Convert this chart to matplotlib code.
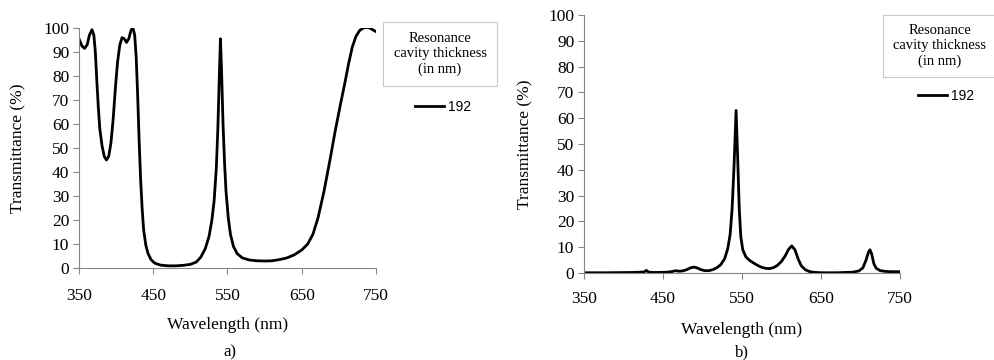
import matplotlib
matplotlib.use("Agg")
import matplotlib.pyplot as plt
from matplotlib.patches import Rectangle

# panel a) transmittance, cavity 192 nm
wl_a = [350, 354, 357.5, 361, 364, 367.5, 370, 372, 374, 376, 378, 381, 384, 387, 390,
        393, 396, 399, 402, 405, 408, 411, 414, 417, 420, 422.5, 425, 427, 429, 431,
        433, 435, 437, 440, 443, 447, 452, 460, 470, 480, 490, 500, 508, 514, 520,
        525, 529, 532, 535, 537, 539, 540.5, 542, 544, 546, 548, 551, 554, 558, 563,
        570, 580, 590, 600, 610, 620, 630, 640, 650, 658, 665, 672, 680, 688, 695,
        702, 708, 713, 718, 723, 728, 733, 738, 743, 747, 750]
tr_a = [95.5, 92.5, 91.5, 93, 97, 99.3, 97, 90, 78, 67, 58, 51, 46.5, 45, 46.5,
        52, 62, 75, 86, 93, 96, 95.5, 94, 95.5, 99, 100.3, 97, 88, 72, 53,
        37, 25, 16, 9.5, 6, 3.5, 2, 1.2, 0.9, 0.9, 1.1, 1.5, 2.5, 4.5, 8,
        13, 20, 28, 42, 58, 80, 95.5, 82, 60, 44, 32, 21, 14, 9, 6,
        4.2, 3.3, 3, 2.9, 3, 3.5, 4.2, 5.5, 7.5, 10, 14, 21, 32, 45, 57,
        68, 77, 85, 92, 96.5, 99, 100, 100.3, 99.8, 99, 98.5]

# panel b)
wl_b = [350, 380, 410, 420, 426, 429, 432, 440, 455, 462, 466, 470, 475, 480, 485,
        489, 493, 498, 503, 508, 513, 518, 523, 528, 532, 535, 537.5, 540, 542.5, 544.5,
        546.5, 548.5, 551, 555, 560, 565, 570, 575, 580, 585, 590, 595, 600, 605, 609,
        613, 617, 621, 625, 630, 635, 640, 650, 670, 690, 698, 703, 707, 710, 712,
        714, 717, 720, 725, 732, 740, 750]
tr_b = [0.1, 0.1, 0.2, 0.3, 0.4, 1.0, 0.3, 0.2, 0.3, 0.6, 0.9, 0.7, 0.8, 1.3, 2.0,
        2.3, 2.0, 1.3, 0.9, 0.9, 1.3, 2.0, 3.2, 5.5, 9.5, 15, 25, 42, 63, 45,
        25, 14, 9, 6.2, 4.8, 3.8, 2.9, 2.2, 1.8, 1.7, 2.1, 3.0, 4.5, 6.8, 9.2,
        10.5, 9, 5.5, 2.8, 1.3, 0.6, 0.3, 0.1, 0.1, 0.3, 0.8, 2, 5, 8, 9,
        7.5, 3.5, 1.8, 0.9, 0.6, 0.5, 0.5]

xticks = [350, 450, 550, 650, 750]
yticks = list(range(0, 101, 10))
legend_title = "Resonance\ncavity thickness\n(in nm)"
series_name = "192"
panel_tags = ["a)", "b)"]

W, H = 995, 360
fig = plt.figure(figsize=(W / 100, H / 100), dpi=100)
serif = "Liberation Serif"
grey = "#868686"


def fx(px):
    return px / W


def fy(py):
    return 1 - py / H


def panel(rect, wl, tr, box, entry, tag, ylab_x, xtick_y, xlab_y):
    # rect in pixels: left, top, right, bottom
    l, t, r, b = rect
    ax = fig.add_axes([fx(l), fy(b), fx(r - l), (b - t) / H])
    ax.plot(wl, tr, color="black", lw=2, label=series_name)
    ax.set_xlim(350, 750)
    ax.set_ylim(0, 100)
    ax.set_xticks(xticks)
    ax.set_yticks(yticks)
    for s in ["top", "right"]:
        ax.spines[s].set_visible(False)
    for s in ["left", "bottom"]:
        ax.spines[s].set_color(grey)
    ax.tick_params(color=grey, length=4, direction="out", labelsize=12.5, pad=3)
    ax.tick_params(axis="x", pad=((xtick_y - b) - 7) * 0.72 - 4)
    for lbl in ax.get_xticklabels() + ax.get_yticklabels():
        lbl.set_fontfamily(serif)
    ax.set_xlabel("Wavelength (nm)", fontsize=12.5, family=serif, va="center")
    ax.xaxis.set_label_coords(0.5, -(xlab_y - b) / (b - t))
    ax.set_ylabel("Transmittance (%)", fontsize=12.5, family=serif, va="center")
    ax.yaxis.set_label_coords(-(l - ylab_x) / (r - l), 0.5)

    # legend title box
    bl, bt, br, bb = box
    fig.patches.append(Rectangle((fx(bl), fy(bb)), fx(br - bl), (bb - bt) / H,
                                 transform=fig.transFigure, fill=False,
                                 edgecolor="#c8c8c8", lw=0.8))
    fig.text(fx(bl + 57), fy((bt + bb) / 2), legend_title, ha="center", va="center",
             fontsize=10.5, family=serif, linespacing=1.25)
    ax.legend(loc="center left", bbox_to_anchor=(fx(entry[0]), fy(entry[1])),
              bbox_transform=fig.transFigure, frameon=False, handlelength=2.1,
              handletextpad=0.3, borderpad=0, borderaxespad=0,
              prop={"family": "Liberation Sans", "size": 10})
    fig.text(fx(tag[0]), fy(tag[1]), tag[2], ha="center", va="center",
             fontsize=12, family=serif)
    return ax


panel((79, 28, 376, 268), wl_a, tr_a, (383, 22, 497, 86), (415, 107),
      (230, 352, panel_tags[0]), 18, 295, 325)
panel((584, 15, 900, 273), wl_b, tr_b, (883, 15, 1000, 77), (918, 96),
      (742, 352, panel_tags[1]), 525, 298, 330)

fig.savefig("out.png", dpi=100)
